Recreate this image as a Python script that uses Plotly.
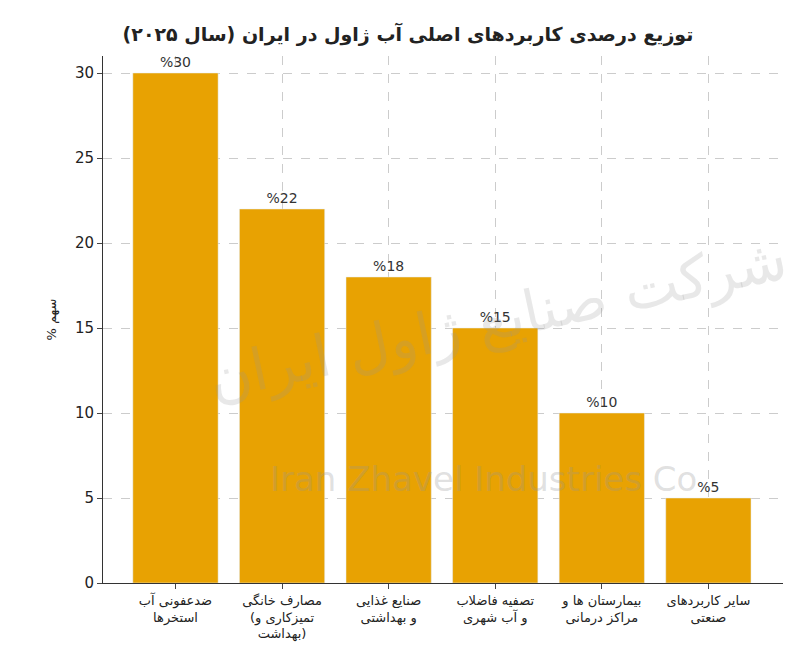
import plotly.graph_objects as go

categories = ["ضدعفونی آب<br>استخرها", "مصارف خانگی<br>(تمیزکاری و<br>بهداشت)",
              "صنایع غذایی<br>و بهداشتی", "تصفیه فاضلاب<br>و آب شهری",
              "بیمارستان ها و<br>مراکز درمانی", "سایر کاربردهای<br>صنعتی"]
shares = [30, 22, 18, 15, 10, 5]
labels = ["%" + str(v) for v in shares]

fig = go.Figure(go.Bar(
    x=list(range(len(categories))), y=shares, text=labels, textposition="outside",
    marker=dict(color="#E8A202"), width=0.8,
    textfont=dict(size=14, color="#333"), cliponaxis=False,
))

# faint watermark
fig.add_annotation(text="Iran Zhavel Industries Co", xref="paper", yref="paper",
                   x=0.56, y=0.155, showarrow=False,
                   font=dict(size=34, color="rgba(150,150,150,0.3)", family="DejaVu Sans"))
fig.add_annotation(text="شرکت صنایع ژاول ایران", xref="paper", yref="paper",
                   x=0.58, y=0.5, showarrow=False, textangle=-12,
                   font=dict(size=58, color="rgba(150,150,150,0.22)", family="DejaVu Sans"))

fig.update_layout(
    width=800, height=666, plot_bgcolor="white", paper_bgcolor="white",
    font=dict(family="DejaVu Sans", color="#222"),
    title=dict(text="<b>توزیع درصدی کاربردهای اصلی آب ژاول در ایران (سال ۲۰۲۵)</b>",
               x=0.5, y=0.97, font=dict(size=19)),
    margin=dict(l=95, r=25, t=48, b=91),
    showlegend=False,
)
fig.update_xaxes(showline=True, linecolor="#333", tickfont=dict(size=13),
                 tickvals=list(range(len(categories))), ticktext=categories,
                 range=[-0.68, 5.7],
                 showgrid=True, gridcolor="#ccc", griddash="dash", ticks="outside")
fig.update_yaxes(range=[0, 31.0], dtick=5, showline=True, linecolor="#333",
                 showgrid=True, gridcolor="#ccc", griddash="dash", ticks="outside",
                 tickfont=dict(size=15), title=dict(text="% سهم", font=dict(size=13)),
                 zeroline=False)

fig.write_html("out.html")
